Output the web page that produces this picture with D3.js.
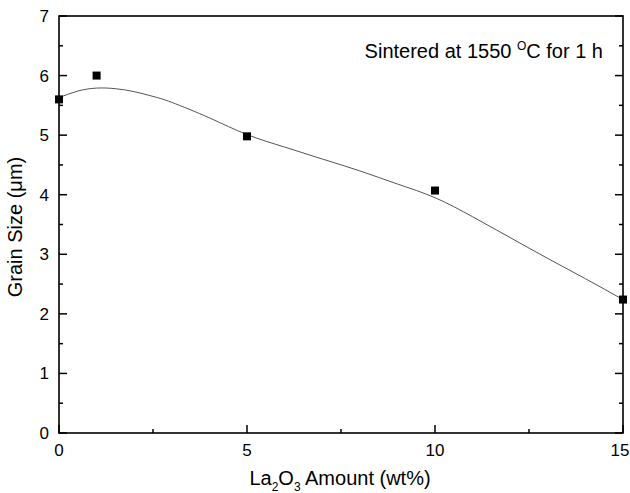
<!DOCTYPE html>
<html>
<head>
<meta charset="utf-8">
<script src="https://cdn.jsdelivr.net/npm/d3@7"></script>
<style>
  body { margin: 0; background: #fff; }
  text { font-family: "Liberation Sans", Arial, sans-serif; fill: #000; }
</style>
</head>
<body>
<div id="chart"></div>
<script>
// measured points
var amounts = [0, 1, 5, 10, 15];
var grainSizes = [5.6, 6.0, 4.98, 4.07, 2.24];

// fitted curve
var curveX = [0, 0.5, 1, 1.5, 2, 2.5, 3, 4, 5, 6, 7, 8, 9, 10, 11, 12, 13, 14, 15];
var curveY = [5.63, 5.74, 5.79, 5.78, 5.73, 5.65, 5.55, 5.29, 5.01, 4.80, 4.60, 4.40, 4.18, 3.95, 3.63, 3.28, 2.93, 2.59, 2.24];

var xTicks = [0, 5, 10, 15];
var xMinor = [2.5, 7.5, 12.5];
var yTicks = [0, 1, 2, 3, 4, 5, 6, 7];
var yMinor = [0.5, 1.5, 2.5, 3.5, 4.5, 5.5, 6.5];

var width = 630, height = 493;
var margin = { left: 59, right: 7, top: 16, bottom: 60 };

var svg = d3.select("#chart").append("svg")
  .attr("width", width)
  .attr("height", height);

var x = d3.scaleLinear().domain([0, 15]).range([margin.left, width - margin.right]);
var y = d3.scaleLinear().domain([0, 7]).range([height - margin.bottom, margin.top]);

// ticks pointing inward
function tickLines(vals, len, side) {
  vals.forEach(function (v) {
    var l = svg.append("line").attr("stroke", "#000").attr("stroke-width", 1.5);
    if (side === "bottom") l.attr("x1", x(v)).attr("x2", x(v)).attr("y1", y(0)).attr("y2", y(0) - len);
    if (side === "left") l.attr("x1", x(0)).attr("x2", x(0) + len).attr("y1", y(v)).attr("y2", y(v));
    if (side === "right") l.attr("x1", x(15)).attr("x2", x(15) - len).attr("y1", y(v)).attr("y2", y(v));
  });
}
tickLines(xTicks, 8, "bottom");
tickLines(xMinor, 4, "bottom");
tickLines(yTicks, 8, "left");
tickLines(yMinor, 4, "left");
tickLines(yTicks, 8, "right");
tickLines(yMinor, 4, "right");

// frame
svg.append("rect")
  .attr("x", x(0)).attr("y", y(7))
  .attr("width", x(15) - x(0)).attr("height", y(0) - y(7))
  .attr("fill", "none").attr("stroke", "#000").attr("stroke-width", 1.6);

// tick labels (last one kept inside the page)
svg.selectAll(".xl").data(xTicks).enter().append("text")
  .attr("x", function (d) { return Math.min(x(d), width - 10); })
  .attr("y", y(0) + 23)
  .attr("text-anchor", "middle")
  .attr("font-size", "17px")
  .text(function (d) { return d; });

svg.selectAll(".yl").data(yTicks).enter().append("text")
  .attr("x", x(0) - 10)
  .attr("y", function (d) { return y(d) + 6; })
  .attr("text-anchor", "end")
  .attr("font-size", "17px")
  .text(function (d) { return d; });

// curve
var lineData = curveX.map(function (v, i) { return [v, curveY[i]]; });
svg.append("path")
  .datum(lineData)
  .attr("fill", "none")
  .attr("stroke", "#555")
  .attr("stroke-width", 1)
  .attr("d", d3.line()
    .x(function (d) { return x(d[0]); })
    .y(function (d) { return y(d[1]); })
    .curve(d3.curveNatural));

// markers
svg.selectAll(".pt").data(amounts).enter().append("rect")
  .attr("x", function (d) { return x(d) - 4; })
  .attr("y", function (d, i) { return y(grainSizes[i]) - 4; })
  .attr("width", 8).attr("height", 8)
  .attr("fill", "#000");

// axis titles
var xt = svg.append("text")
  .attr("x", 340).attr("y", 485)
  .attr("text-anchor", "middle")
  .attr("font-size", "20px");
xt.append("tspan").text("La");
xt.append("tspan").attr("font-size", "12px").attr("dy", 6).text("2");
xt.append("tspan").attr("dy", -6).text("O");
xt.append("tspan").attr("font-size", "12px").attr("dy", 6).text("3");
xt.append("tspan").attr("dy", -6).text(" Amount (wt%)");

svg.append("text")
  .attr("transform", "translate(22," + 227 + ") rotate(-90)")
  .attr("text-anchor", "middle")
  .attr("font-size", "20px")
  .text("Grain Size (\u03bcm)");

// annotation
var an = svg.append("text")
  .attr("x", 603).attr("y", 58)
  .attr("text-anchor", "end")
  .attr("font-size", "20px");
an.append("tspan").text("Sintered at 1550 ");
an.append("tspan").attr("font-size", "12px").attr("dy", -8).text("O");
an.append("tspan").attr("dy", 8).text("C for 1 h");
</script>
</body>
</html>
